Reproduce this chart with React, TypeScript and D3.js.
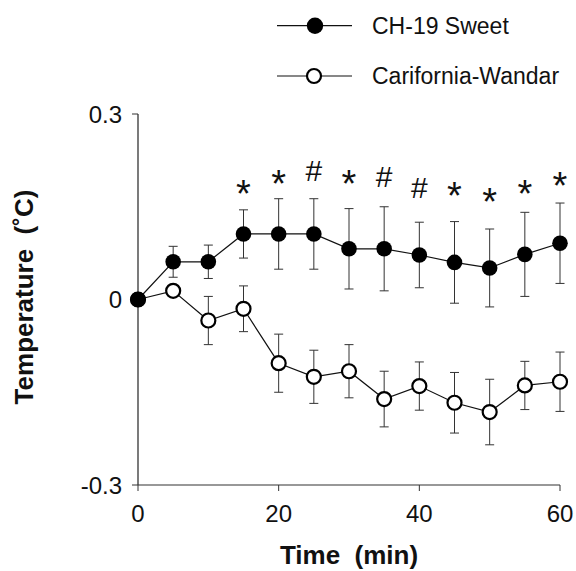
import React from "react";
import * as d3 from "d3";

const times = [0, 5, 10, 15, 20, 25, 30, 35, 40, 45, 50, 55, 60];
const sweetMean = [0, 0.061, 0.061, 0.106, 0.106, 0.106, 0.082, 0.082, 0.072, 0.06, 0.051, 0.073, 0.091];
const sweetErr = [0, 0.025, 0.027, 0.039, 0.057, 0.057, 0.065, 0.068, 0.053, 0.066, 0.063, 0.068, 0.065];
const wandarMean = [0, 0.014, -0.034, -0.015, -0.103, -0.125, -0.116, -0.161, -0.14, -0.167, -0.182, -0.139, -0.133];
const wandarErr = [0, 0, 0.039, 0.037, 0.047, 0.043, 0.043, 0.045, 0.039, 0.049, 0.053, 0.039, 0.048];
const annotTimes = [15, 20, 25, 30, 35, 40, 45, 50, 55, 60];
const annotSymbols = ["*", "*", "#", "*", "#", "#", "*", "*", "*", "*"];
const annotValues = [0.185, 0.2, 0.209, 0.201, 0.2, 0.182, 0.182, 0.172, 0.185, 0.198];
const xTicks = [0, 20, 40, 60];
const yTicks = [0.3, 0, -0.3];
const yTickLabels = ["0.3", "0", "-0.3"];
const seriesNames = ["CH-19 Sweet", "Carifornia-Wandar"];

const FONT = "'Liberation Sans', Arial, Helvetica, sans-serif";

export default function App() {
  const W = 576, H = 571;
  const x = d3.scaleLinear().domain([0, 60]).range([138, 560]);
  const y = d3.scaleLinear().domain([-0.3, 0.3]).range([485, 114]);
  const line = d3.line<[number, number]>().x((d) => x(d[0])).y((d) => y(d[1]));

  const sweetPts: [number, number][] = times.map((t, i) => [t, sweetMean[i]]);
  const wandarPts: [number, number][] = times.map((t, i) => [t, wandarMean[i]]);

  const errBars = (means: number[], errs: number[], key: string) =>
    times.map((t, i) => {
      if (!errs[i]) return null;
      const cx = x(t);
      const y1 = y(means[i] + errs[i]);
      const y2 = y(means[i] - errs[i]);
      return (
        <g key={key + i} stroke="#333" strokeWidth={1}>
          <line x1={cx} x2={cx} y1={y1} y2={y2} />
          <line x1={cx - 4.5} x2={cx + 4.5} y1={y1} y2={y1} />
          <line x1={cx - 4.5} x2={cx + 4.5} y1={y2} y2={y2} />
        </g>
      );
    });

  return (
    <div style={{ position: "fixed", left: 0, top: 0 }}>
      <svg width={W} height={H} style={{ display: "block", background: "#fff" }} fontFamily={FONT}>
        <rect width={W} height={H} fill="#fff" />
        {/* axes */}
        <line x1={x(0)} x2={x(0)} y1={y(0.3)} y2={y(-0.3)} stroke="#222" strokeWidth={1.2} />
        <line x1={x(0)} x2={x(60)} y1={y(-0.3)} y2={y(-0.3)} stroke="#333" strokeWidth={1.2} />
        {yTicks.map((v, i) => (
          <g key={"yt" + i}>
            <line x1={x(0) - 6} x2={x(0)} y1={y(v)} y2={y(v)} stroke="#333" strokeWidth={1} />
            <text x={x(0) - 16} y={y(v) + 8.6} fontSize={24} textAnchor="end" fill="#111">
              {yTickLabels[i]}
            </text>
          </g>
        ))}
        {xTicks.map((v, i) => (
          <g key={"xt" + i}>
            <line x1={x(v)} x2={x(v)} y1={y(-0.3)} y2={y(-0.3) + 6} stroke="#333" strokeWidth={1} />
            <text x={x(v)} y={522} fontSize={24} textAnchor="middle" fill="#111">
              {String(v)}
            </text>
          </g>
        ))}
        {/* axis titles */}
        <text
          transform={`translate(33, 297) rotate(-90)`}
          fontSize={26}
          fontWeight="bold"
          textAnchor="middle"
          fill="#111"
          style={{ whiteSpace: "pre" }}
        >
          {"Temperature  (˚C)"}
        </text>
        <text x={349} y={564} fontSize={26} fontWeight="bold" textAnchor="middle" fill="#111" style={{ whiteSpace: "pre" }}>
          {"Time  (min)"}
        </text>

        {/* error bars */}
        {errBars(wandarMean, wandarErr, "we")}
        {errBars(sweetMean, sweetErr, "se")}

        {/* lines */}
        <path d={line(wandarPts) || ""} fill="none" stroke="#111" strokeWidth={1.2} />
        <path d={line(sweetPts) || ""} fill="none" stroke="#111" strokeWidth={1.2} />

        {/* markers */}
        {wandarPts.map((p, i) => (
          <circle key={"wm" + i} cx={x(p[0])} cy={y(p[1])} r={7} fill="#fff" stroke="#000" strokeWidth={2.2} />
        ))}
        {sweetPts.map((p, i) => (
          <circle key={"sm" + i} cx={x(p[0])} cy={y(p[1])} r={7.8} fill="#000" />
        ))}

        {/* significance marks */}
        {annotTimes.map((t, i) => {
          const sym = annotSymbols[i];
          const fs = sym === "*" ? 38 : 30;
          const off = sym === "*" ? 0.57 * fs : 0.36 * fs;
          return (
            <text key={"an" + i} x={x(t)} y={y(annotValues[i]) + off} fontSize={fs} textAnchor="middle" fill="#111">
              {sym}
            </text>
          );
        })}

        {/* legend */}
        {seriesNames.map((name, i) => {
          const ly = i === 0 ? 25.7 : 76;
          return (
            <g key={"lg" + i}>
              <line x1={277} x2={352} y1={ly} y2={ly} stroke="#111" strokeWidth={1.2} />
              {i === 0 ? (
                <circle cx={315} cy={ly} r={8.2} fill="#000" />
              ) : (
                <circle cx={314} cy={ly} r={7} fill="#fff" stroke="#000" strokeWidth={2.2} />
              )}
              <text x={372} y={ly + 8.3} fontSize={23} fill="#111">
                {name}
              </text>
            </g>
          );
        })}
      </svg>
    </div>
  );
}
